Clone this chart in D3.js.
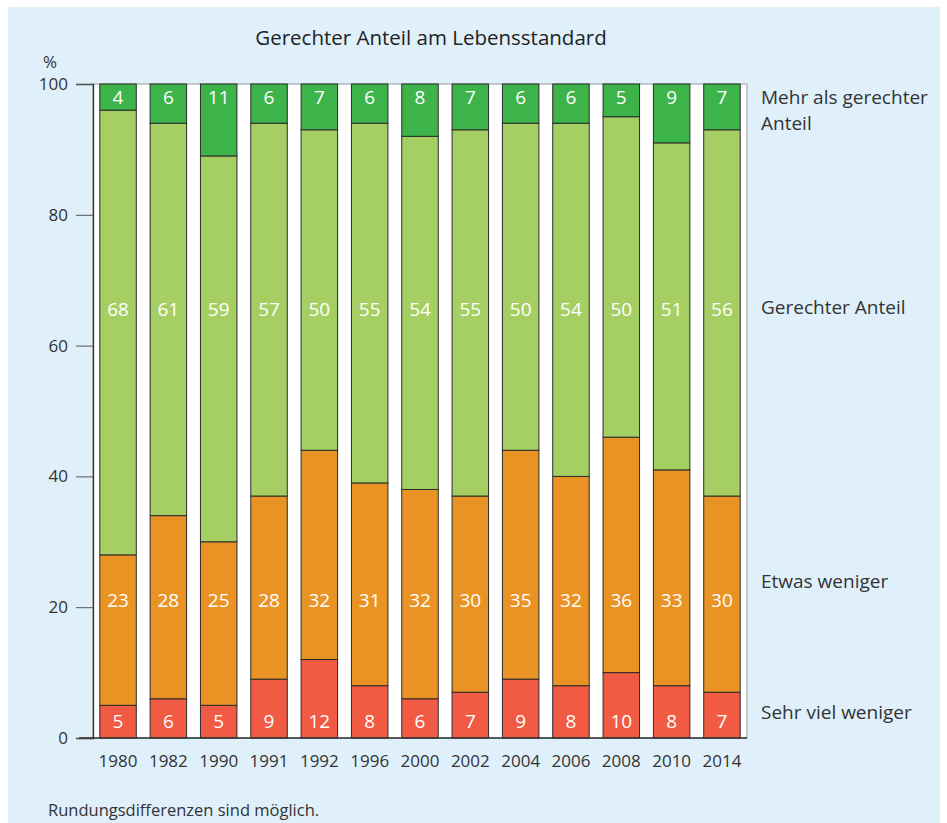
<!DOCTYPE html>
<html>
<head>
<meta charset="utf-8">
<script src="https://cdn.jsdelivr.net/npm/d3@7"></script>
<style>
  body { margin: 0; background: #fff; }
  svg { display: block; font-family: "Open Sans", "Noto Sans", sans-serif; }
</style>
</head>
<body>
<svg id="chart" width="947" height="823"></svg>
<script>
/* DATA */
const years = ["1980","1982","1990","1991","1992","1996","2000","2002","2004","2006","2008","2010","2014"];
const sehrVielWeniger = [5, 6, 5, 9, 12, 8, 6, 7, 9, 8, 10, 8, 7];
const etwasWeniger    = [23, 28, 25, 28, 32, 31, 32, 30, 35, 32, 36, 33, 30];
const gerechterAnteil = [68, 61, 59, 57, 50, 55, 54, 55, 50, 54, 50, 51, 56];
const mehrAlsAnteil   = [4, 6, 11, 6, 7, 6, 8, 7, 6, 6, 5, 9, 7];
const yTicks = [0, 20, 40, 60, 80, 100];

const colors = {
  red: "#f15a43",
  orange: "#ea9325",
  light: "#a5cf63",
  dark: "#3cb44a"
};

const svg = d3.select("#chart");

// panel
svg.append("rect").attr("x", 8).attr("y", 7).attr("width", 932).attr("height", 816).attr("fill", "#dff0fb");

const x = d3.scaleBand().domain(years).range([93, 747]).paddingInner(0.275).paddingOuter(0.135);
const y = d3.scaleLinear().domain([0, 100]).range([738, 84]);

// plot area
svg.append("rect")
  .attr("x", 93).attr("y", y(100))
  .attr("width", 747 - 93).attr("height", y(0) - y(100))
  .attr("fill", "#fff").attr("stroke", "#9a9a9a").attr("stroke-width", 1);

// segments: lower two stacked from 0, top one hangs from 100, middle fills between
const rows = years.map((yr, i) => {
  const a = sehrVielWeniger[i], b = etwasWeniger[i], d = mehrAlsAnteil[i];
  return [
    { year: yr, y0: 0, y1: a, c: colors.red, v: a, ly: 2.5 },
    { year: yr, y0: a, y1: a + b, c: colors.orange, v: b, ly: 21 },
    { year: yr, y0: a + b, y1: 100 - d, c: colors.light, v: gerechterAnteil[i], ly: 65.6 },
    { year: yr, y0: 100 - d, y1: 100, c: colors.dark, v: d, ly: 97.9 }
  ];
});
const segs = rows.flat();

svg.append("g").selectAll("rect")
  .data(segs)
  .enter()
  .append("rect")
  .attr("x", d => x(d.year))
  .attr("y", d => y(d.y1))
  .attr("width", x.bandwidth())
  .attr("height", d => y(d.y0) - y(d.y1))
  .attr("fill", d => d.c)
  .attr("stroke", "#2b2b2b")
  .attr("stroke-width", 1);

svg.append("g").selectAll("text")
  .data(segs)
  .enter()
  .append("text")
  .attr("x", d => x(d.year) + x.bandwidth() / 2)
  .attr("y", d => y(d.ly))
  .attr("dy", "0.35em")
  .attr("text-anchor", "middle")
  .attr("fill", "#fff")
  .attr("font-size", 19)
  .text(d => d.v);

// y axis
const yAxis = svg.append("g").attr("transform", "translate(93,0)")
  .call(d3.axisLeft(y).tickValues(yTicks).tickSize(17).tickPadding(8));
yAxis.select(".domain").attr("stroke", "#333").attr("stroke-width", 1.3);
yAxis.selectAll(".tick line").attr("stroke", "#555");
yAxis.selectAll("text").attr("font-size", 17).attr("fill", "#333").attr("font-family", "Open Sans, sans-serif");

// x axis
const xAxis = svg.append("g").attr("transform", "translate(0,738)")
  .call(d3.axisBottom(x).tickSize(0).tickPadding(17));
xAxis.select(".domain").remove();
xAxis.selectAll("text").attr("font-size", 17).attr("fill", "#333").attr("font-family", "Open Sans, sans-serif");
svg.append("line").attr("x1", 79).attr("x2", 747).attr("y1", 738).attr("y2", 738)
  .attr("stroke", "#333").attr("stroke-width", 1.3);

// title, unit, note
svg.append("text").attr("x", 431).attr("y", 45).attr("text-anchor", "middle")
  .attr("font-size", 20.5).attr("fill", "#222").text("Gerechter Anteil am Lebensstandard");
svg.append("text").attr("x", 50).attr("y", 68).attr("text-anchor", "middle")
  .attr("font-size", 17).attr("fill", "#333").text("%");
svg.append("text").attr("x", 48).attr("y", 816)
  .attr("font-size", 16.5).attr("fill", "#333").text("Rundungsdifferenzen sind möglich.");

// series labels at the right
const seriesLabels = [
  { lines: ["Mehr als gerechter", "Anteil"], v: 97.9 },
  { lines: ["Gerechter Anteil"], v: 65.9 },
  { lines: ["Etwas weniger"], v: 23.9 },
  { lines: ["Sehr viel weniger"], v: 3.9 }
];
seriesLabels.forEach(s => {
  const t = svg.append("text").attr("x", 761).attr("y", y(s.v)).attr("dy", "0.35em")
    .attr("font-size", 19).attr("fill", "#333");
  s.lines.forEach((l, i) => {
    t.append("tspan").attr("x", 761).attr("dy", i === 0 ? "0.35em" : "1.37em").text(l);
  });
});
</script>
</body>
</html>
